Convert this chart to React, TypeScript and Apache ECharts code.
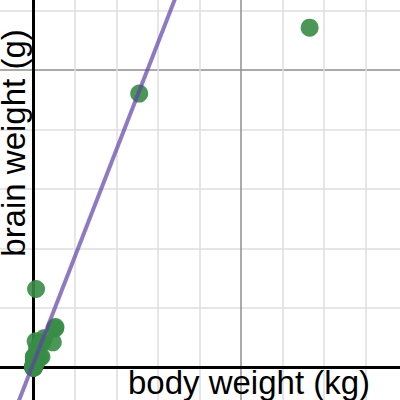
import React, { useEffect, useRef } from "react";
import * as echarts from "echarts";

// Mammal body weight (kg) and brain weight (g)
const species = [
  "Arctic fox", "Owl monkey", "Mountain beaver", "Cow", "Grey wolf", "Goat", "Roe deer",
  "Guinea pig", "Verbet", "Chinchilla", "Ground squirrel", "Arctic ground squirrel",
  "African giant pouched rat", "Lesser short-tailed shrew", "Star-nosed mole",
  "Nine-banded armadillo", "Tree hyrax", "N.A. opossum", "Asian elephant", "Big brown bat",
  "Donkey", "Horse", "European hedgehog", "Patas monkey", "Cat", "Galago", "Genet",
  "Giraffe", "Gorilla", "Grey seal", "Rock hyrax (a)", "Human", "African elephant",
  "Water opossum", "Rhesus monkey", "Kangaroo", "Yellow-bellied marmot", "Golden hamster",
  "Mouse", "Little brown bat", "Slow loris", "Okapi", "Rabbit", "Sheep", "Jaguar",
  "Chimpanzee", "Baboon", "Desert hedgehog", "Giant armadillo", "Rock hyrax (b)", "Raccoon",
  "Rat", "E. American mole", "Mole rat", "Musk shrew", "Pig", "Echidna", "Brazilian tapir",
  "Tenrec", "Phalanger", "Tree shrew", "Red fox",
];
const bodyKg = [
  3.385, 0.48, 1.35, 465, 36.33, 27.66, 14.83, 1.04, 4.19, 0.425, 0.101, 0.92, 1, 0.005,
  0.06, 3.5, 2, 1.7, 2547, 0.023, 187.1, 521, 0.785, 10, 3.3, 0.2, 1.41, 529, 207, 85, 0.75,
  62, 6654, 3.5, 6.8, 35, 4.05, 0.12, 0.023, 0.01, 1.4, 250, 2.5, 55.5, 100, 52.16, 10.55,
  0.55, 60, 3.6, 4.288, 0.28, 0.075, 0.122, 0.048, 192, 3, 160, 0.9, 1.62, 0.104, 4.235,
];
const brainG = [
  44.5, 15.5, 8.1, 423, 119.5, 115, 98.2, 5.5, 58, 6.4, 4, 5.7, 6.6, 0.14, 1, 10.8, 12.3,
  6.3, 4603, 0.3, 419, 655, 3.5, 115, 25.6, 5, 17.5, 680, 406, 325, 12.3, 1320, 5712, 3.9,
  179, 56, 17, 1, 0.4, 0.25, 12.5, 490, 12.1, 175, 157, 440, 179.5, 2.4, 81, 21, 39.2, 1.9,
  1.2, 3, 0.33, 180, 25, 169, 2.6, 11.4, 2.5, 50.4,
];
// fitted line (two end points, data units)
const fitBody = [-1000, 4000];
const fitBrain = [-1721, 7254];

const xLabel = "body weight (kg)";
const yLabel = "brain weight (g)";

const MINOR = "#dedede";
const MAJOR = "#8e8e8e";

export default function App() {
  const ref = useRef<HTMLDivElement>(null);
  useEffect(() => {
    const chart = echarts.init(ref.current!, null, { renderer: "svg" });
    const font = "'Liberation Sans', Arial, sans-serif";
    chart.setOption({
      animation: false,
      grid: { left: 0, right: 0, top: 0, bottom: 0, containLabel: false, outerBoundsMode: "none" },
      xAxis: {
        type: "value",
        min: -1000,
        max: 9000,
        interval: 1000,
        axisLine: { show: true, onZero: true, lineStyle: { color: "#000", width: 3 } },
        axisTick: { show: false },
        axisLabel: { show: false },
        splitLine: { show: true, lineStyle: { color: [MINOR, MAJOR, MINOR, MINOR, MINOR], width: 1.5 } },
      },
      yAxis: {
        type: "value",
        min: -1000,
        max: 7000,
        interval: 1000,
        axisLine: { show: true, onZero: true, lineStyle: { color: "#000", width: 3 } },
        axisTick: { show: false },
        axisLabel: { show: false },
        splitLine: { show: true, lineStyle: { color: [MINOR, MAJOR, MINOR, MINOR, MINOR], width: 1.5 } },
      },
      series: [
        {
          type: "scatter",
          name: "mammals",
          data: bodyKg.map((b, i) => ({ name: species[i], value: [b, brainG[i]] })),
          symbol: "circle",
          symbolSize: 18,
          itemStyle: { color: "#388c46", opacity: 0.9 },
          z: 2,
        },
        {
          type: "line",
          name: "fit",
          data: fitBody.map((b, i) => [b, fitBrain[i]]),
          showSymbol: false,
          symbol: "none",
          lineStyle: { color: "#6042a6", width: 4, opacity: 0.7 },
          clip: true,
          z: 3,
        },
      ],
      graphic: [
        {
          type: "text",
          x: 257,
          y: 431,
          z: 10,
          style: {
            text: xLabel,
            font: `33px ${font}`,
            fill: "#000",
            align: "center",
            verticalAlign: "middle",
          },
        },
        {
          type: "text",
          x: 21.6,
          y: 192,
          rotation: Math.PI / 2,
          z: 10,
          style: {
            text: yLabel,
            font: `33px ${font}`,
            fill: "#000",
            align: "center",
            verticalAlign: "middle",
          },
        },
      ],
    });
    return () => chart.dispose();
  }, []);
  return (
    <div
      style={{
        position: "fixed",
        left: 0,
        top: 0,
        width: 400,
        height: 400,
        overflow: "hidden",
        background: "#fff",
      }}
    >
      <div ref={ref} style={{ position: "absolute", left: -8, top: -49, width: 415, height: 476 }} />
    </div>
  );
}
